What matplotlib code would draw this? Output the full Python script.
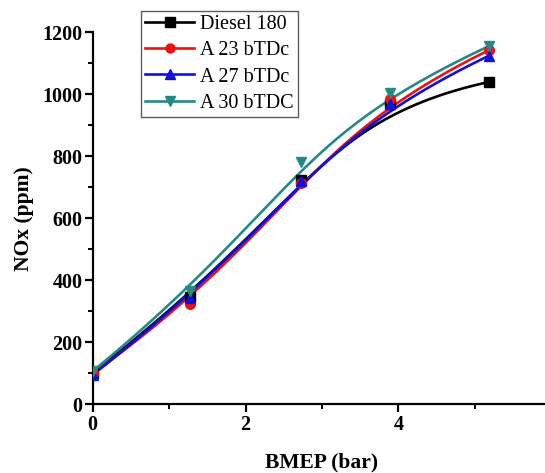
import numpy as np
import matplotlib
matplotlib.use("Agg")
import matplotlib.pyplot as plt
from matplotlib.ticker import MultipleLocator, FixedFormatter, FixedLocator

bmep = [0.0, 1.28, 2.72, 3.89, 5.19]
diesel_180 = [102, 345, 722, 970, 1040]
a23_btdc = [100, 325, 715, 985, 1143]
a27_btdc = [95, 343, 719, 970, 1125]
a30_btdc = [107, 364, 781, 1005, 1156]

series_names = ["Diesel 180", "A 23 bTDc", "A 27 bTDc", "A 30 bTDC"]
series_values = [diesel_180, a23_btdc, a27_btdc, a30_btdc]
colors = ["#000000", "#ee1111", "#1010dd", "#238a86"]
markers = ["s", "o", "^", "v"]

x_ticks = [0, 2, 4]
x_tick_labels = ["0", "2", "4"]


def bspline(xs, ys, n=300):
    # clamped cubic B-spline with the data points as control points
    P = np.column_stack([xs, ys]).astype(float)
    k = 3
    m = len(P)
    inner = np.linspace(0, 1, m - k + 1)
    knots = np.concatenate([[0] * k, inner, [1] * k])
    ts = np.linspace(0, 1, n)
    out = []
    for t in ts:
        if t >= 1:
            out.append(P[-1])
            continue
        s = np.searchsorted(knots, t, side="right") - 1
        d = [P[j + s - k].copy() for j in range(k + 1)]
        for r in range(1, k + 1):
            for j in range(k, r - 1, -1):
                i = j + s - k
                denom = knots[i + k + 1 - r] - knots[i]
                a = 0 if denom == 0 else (t - knots[i]) / denom
                d[j] = (1 - a) * d[j - 1] + a * d[j]
        out.append(d[k])
    out = np.array(out)
    return out[:, 0], out[:, 1]


plt.rcParams["font.family"] = ["Liberation Serif", "DejaVu Serif"]
fig = plt.figure(figsize=(5.45, 4.73), dpi=100)
W, H = 545, 473
left, right, bottom, top = 92.7, 551.1, 404.3, 32.3
ax = fig.add_axes([left / W, (H - bottom) / H, (right - left) / W, (bottom - top) / H])

for name, vals, c, mk in zip(series_names, series_values, colors, markers):
    sx, sy = bspline(bmep, vals)
    ax.plot(sx, sy, color=c, lw=1.9, zorder=2)
    ax.plot(bmep, vals, ls="none", marker=mk, color=c, ms=7, zorder=3)
    ax.plot([], [], color=c, lw=1.9, marker=mk, ms=6.5, label=name)

ax.set_xlim(0, 6)
ax.set_ylim(0, 1200)
ax.xaxis.set_major_locator(FixedLocator(x_ticks))
ax.xaxis.set_major_formatter(FixedFormatter(x_tick_labels))
ax.xaxis.set_minor_locator(MultipleLocator(1))
ax.yaxis.set_major_locator(MultipleLocator(200))
ax.yaxis.set_minor_locator(MultipleLocator(100))

for s in ["top", "right"]:
    ax.spines[s].set_visible(False)
for s in ["left", "bottom"]:
    ax.spines[s].set_linewidth(1.6)

ax.tick_params(which="major", direction="out", length=6, width=1.6, labelsize=14.5, pad=1.5)
ax.tick_params(which="minor", direction="out", length=3.5, width=1.4)
for lbl in ax.get_xticklabels() + ax.get_yticklabels():
    lbl.set_fontweight("bold")

ax.set_xlabel("BMEP (bar)", fontsize=15.5, fontweight="bold", labelpad=13)
ax.set_ylabel("NOx (ppm)", fontsize=15.5, fontweight="bold", labelpad=6)

leg = ax.legend(loc="upper left", bbox_to_anchor=((141 - left) / (right - left), 1 + (top - 10.7) / (bottom - top)),
                fontsize=14.5, frameon=True, fancybox=False, handlelength=2.45, handletextpad=0.3,
                labelspacing=0.36, borderpad=0.2, borderaxespad=0)
leg.get_frame().set_edgecolor("#333333")
leg.get_frame().set_linewidth(1.0)

fig.savefig("out.png", dpi=100)
